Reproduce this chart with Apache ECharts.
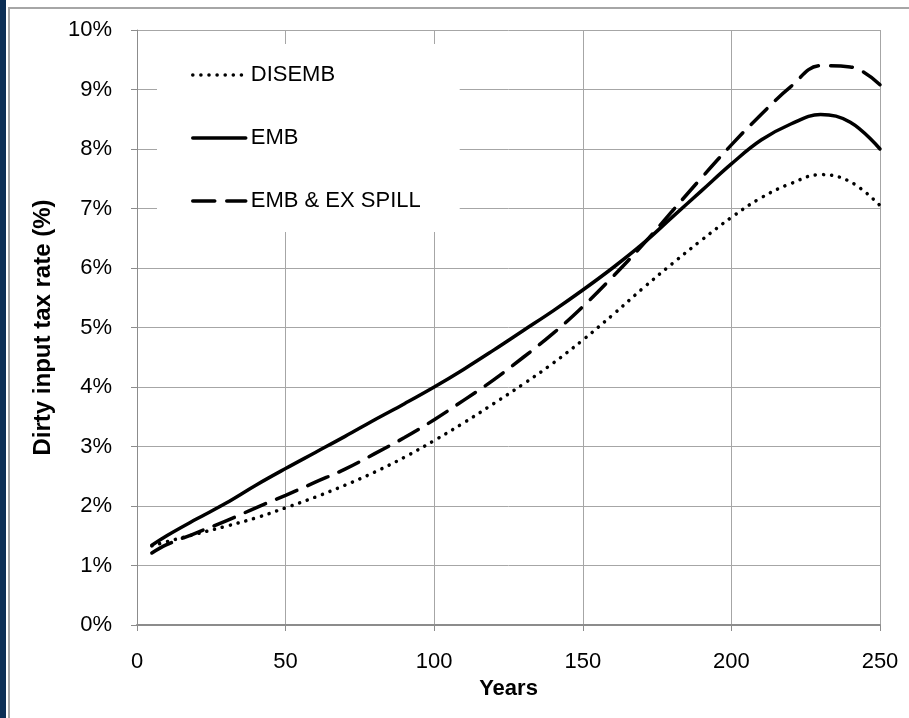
<!DOCTYPE html>
<html>
<head>
<meta charset="utf-8">
<script src="https://cdn.jsdelivr.net/npm/echarts@6/dist/echarts.min.js"></script>
<style>
  html, body { margin: 0; padding: 0; background: #fff; }
  #band { position: absolute; left: 0; top: 0; width: 6px; height: 718px; background: #0b2e55; }
  #frame { position: absolute; left: 8px; top: 7px; width: 901px; height: 711px;
           border-left: 2px solid #a6a6a6; border-top: 2px solid #a6a6a6; box-sizing: border-box; }
  #main { position: absolute; left: 0; top: 0; width: 909px; height: 718px; }
</style>
</head>
<body>
<div id="band"></div>
<div id="frame"></div>
<div id="main"></div>
<script>
// 数据
var years = [5, 10, 20, 30, 40, 50, 60, 70, 80, 90, 100, 110, 120, 130, 140, 150, 160, 170, 180, 190, 200, 210, 220, 230, 240, 250];
var disemb = [1.33, 1.40, 1.53, 1.66, 1.80, 1.97, 2.15, 2.35, 2.57, 2.82, 3.10, 3.40, 3.72, 4.05, 4.40, 4.79, 5.21, 5.65, 6.07, 6.47, 6.85, 7.18, 7.42, 7.57, 7.45, 7.05];
var emb = [1.34, 1.50, 1.78, 2.05, 2.35, 2.63, 2.90, 3.17, 3.45, 3.72, 4.00, 4.30, 4.62, 4.95, 5.28, 5.63, 6.00, 6.40, 6.85, 7.30, 7.75, 8.15, 8.42, 8.58, 8.45, 8.00];
var embSpill = [1.21, 1.35, 1.55, 1.75, 1.97, 2.18, 2.40, 2.62, 2.88, 3.15, 3.45, 3.78, 4.12, 4.50, 4.90, 5.35, 5.85, 6.38, 6.95, 7.52, 8.07, 8.58, 9.05, 9.40, 9.38, 9.08];
var seriesNames = ['DISEMB', 'EMB', 'EMB & EX SPILL'];

function pairs(xs, ys) {
  return xs.map(function (x, i) { return [x, ys[i]]; });
}

var font = 'Liberation Sans';
var chart = echarts.init(document.getElementById('main'));

var option = {
  animation: false,
  grid: { left: 137, right: 29, top: 30, bottom: 93 },
  legend: {
    orient: 'vertical',
    left: 157,
    top: 44,
    padding: [19, 39, 19, 34],
    itemGap: 39,
    itemWidth: 53,
    itemHeight: 14,
    backgroundColor: '#ffffff',
    itemStyle: { opacity: 0 },
    lineStyle: { width: 3.5 },
    textStyle: { fontFamily: font, fontSize: 22, color: '#000', lineHeight: 24 },
    data: seriesNames
  },
  xAxis: {
    type: 'value',
    min: 0, max: 250, interval: 50,
    name: 'Years',
    nameLocation: 'middle',
    nameGap: 53,
    nameTextStyle: { fontFamily: font, fontSize: 22, fontWeight: 'bold', color: '#000' },
    axisLine: { lineStyle: { color: '#8c8c8c', width: 2 } },
    axisTick: { show: true, length: 6, lineStyle: { color: '#8c8c8c' } },
    axisLabel: { fontFamily: font, fontSize: 22, color: '#000', margin: 26 },
    splitLine: { show: true, lineStyle: { color: '#a6a6a6', width: 1 } }
  },
  yAxis: {
    type: 'value',
    min: 0, max: 10, interval: 1,
    name: 'Dirty input tax rate (%)',
    nameLocation: 'middle',
    nameGap: 82,
    nameTextStyle: { fontFamily: font, fontSize: 24, fontWeight: 'bold', color: '#000' },
    axisLine: { show: true, lineStyle: { color: '#8c8c8c', width: 1 } },
    axisTick: { show: true, length: 6, lineStyle: { color: '#8c8c8c' } },
    axisLabel: { fontFamily: font, fontSize: 22, color: '#000', margin: 25, formatter: '{value}%' },
    splitLine: { show: true, lineStyle: { color: '#a6a6a6', width: 1 } }
  },
  series: [
    {
      name: seriesNames[0], type: 'line', smooth: 0.4, symbol: 'none', z: 3,
      lineStyle: { color: '#000', width: 3.5, type: [0.1, 8], cap: 'round' },
      itemStyle: { color: '#000' },
      data: pairs(years, disemb)
    },
    {
      name: seriesNames[1], type: 'line', smooth: 0.4, symbol: 'none', z: 3,
      lineStyle: { color: '#000', width: 3.5, type: 'solid', cap: 'round' },
      itemStyle: { color: '#000' },
      data: pairs(years, emb)
    },
    {
      name: seriesNames[2], type: 'line', smooth: 0.4, symbol: 'none', z: 3,
      lineStyle: { color: '#000', width: 3.5, type: [22, 12], cap: 'round' },
      itemStyle: { color: '#000' },
      data: pairs(years, embSpill)
    }
  ]
};

chart.setOption(option);
</script>
</body>
</html>
